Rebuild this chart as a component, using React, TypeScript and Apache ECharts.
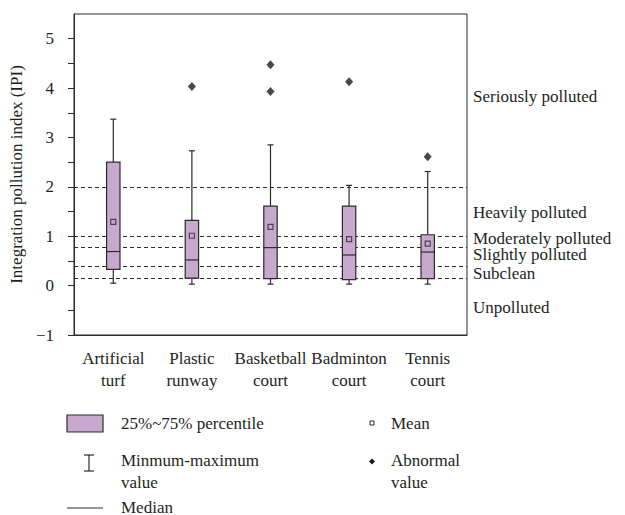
import React, { useEffect, useRef } from "react";
import * as echarts from "echarts";

const categories = ["Artificial\nturf", "Plastic\nrunway", "Basketball\ncourt", "Badminton\ncourt", "Tennis\ncourt"];
const minValues = [0.05, 0.03, 0.03, 0.03, 0.03];
const q1Values = [0.33, 0.15, 0.14, 0.12, 0.14];
const medianValues = [0.69, 0.52, 0.77, 0.62, 0.68];
const q3Values = [2.5, 1.32, 1.61, 1.61, 1.03];
const maxValues = [3.37, 2.73, 2.85, 2.03, 2.31];
const meanValues = [1.29, 1.01, 1.19, 0.94, 0.85];
const outlierCats = [1, 2, 2, 3, 4];
const outlierValues = [4.03, 4.47, 3.93, 4.13, 2.61];
const thresholds = [0.15, 0.4, 0.78, 1, 2];
const gradeNames = ["Seriously polluted", "Heavily polluted", "Moderately polluted", "Slightly polluted", "Subclean", "Unpolluted"];
const gradeLabelValues = [3.83, 1.48, 0.96, 0.64, 0.25, -0.45];

const FONT = '"Liberation Serif", "Times New Roman", serif';
const FS = 17;
const TXT = "#231f20";
const LINE = "#2b2b2b";
const BOX = "#c8a8cf";

export default function App() {
  const ref = useRef<HTMLDivElement>(null);
  useEffect(() => {
    if (!ref.current) return;
    const chart = echarts.init(ref.current, undefined, { renderer: "svg" });
    const boxData = categories.map((_, i) => [i, minValues[i], q1Values[i], medianValues[i], q3Values[i], maxValues[i]]);
    const meanData = categories.map((_, i) => [i, meanValues[i]]);
    const outData = outlierCats.map((c, i) => [c, outlierValues[i]]);
    const textEl = (text: string, x: number, y: number) => ({
      type: "text",
      x,
      y,
      style: { text, fill: TXT, fontSize: FS, fontFamily: FONT, verticalAlign: "middle", align: "left" },
    });
    const legendGraphics: any[] = [
      { type: "rect", shape: { x: 67, y: 415, width: 36, height: 17 }, style: { fill: BOX, stroke: LINE, lineWidth: 1.2 } },
      textEl("25%~75% percentile", 121, 423),
      { type: "line", shape: { x1: 89, y1: 455, x2: 89, y2: 471 }, style: { stroke: LINE, lineWidth: 1.2 } },
      { type: "line", shape: { x1: 84, y1: 455, x2: 94, y2: 455 }, style: { stroke: LINE, lineWidth: 1.2 } },
      { type: "line", shape: { x1: 84, y1: 471, x2: 94, y2: 471 }, style: { stroke: LINE, lineWidth: 1.2 } },
      textEl("Minmum-maximum", 121, 460),
      textEl("value", 121, 482),
      { type: "line", shape: { x1: 67, y1: 508, x2: 103, y2: 508 }, style: { stroke: LINE, lineWidth: 1.2 } },
      textEl("Median", 121, 507),
      { type: "rect", shape: { x: 370, y: 421, width: 4, height: 4 }, style: { fill: "#fff", stroke: LINE, lineWidth: 1 } },
      textEl("Mean", 391, 423),
      { type: "polygon", shape: { points: [[372, 458.5], [375, 461.5], [372, 464.5], [369, 461.5]] }, style: { fill: "#1a1a1a" } },
      textEl("Abnormal", 391, 460),
      textEl("value", 391, 482),
    ];
    chart.setOption({
      animation: false,
      textStyle: { fontFamily: FONT, color: TXT },
      grid: { left: 67, right: 158, top: 14, bottom: 180, show: true, borderColor: LINE, borderWidth: 1, backgroundColor: "transparent" },
      xAxis: {
        type: "category",
        data: categories,
        boundaryGap: true,
        axisLine: { onZero: false, lineStyle: { color: LINE, width: 1 } },
        axisTick: { alignWithLabel: true, length: 6, lineStyle: { color: LINE } },
        axisLabel: { color: TXT, fontSize: FS, fontFamily: FONT, lineHeight: 22, margin: 12, interval: 0 },
        splitLine: { show: false },
      },
      yAxis: {
        type: "value",
        min: -1,
        max: 5.5,
        interval: 0.5,
        name: "Integration pollution index (IPI)",
        nameLocation: "middle",
        nameGap: 40,
        nameTextStyle: { color: TXT, fontSize: FS, fontFamily: FONT },
        axisLine: { show: true, lineStyle: { color: LINE, width: 1 } },
        axisTick: { show: true, length: 6, lineStyle: { color: LINE } },
        axisLabel: {
          color: TXT,
          fontSize: FS,
          fontFamily: FONT,
          margin: 20,
          showMaxLabel: false,
          formatter: (v: number) => (Number.isInteger(v) ? (v < 0 ? "\u2212" + Math.abs(v) : String(v)) : ""),
        },
        splitLine: { show: false },
      },
      series: [
        {
          type: "line",
          data: [],
          silent: true,
          markLine: {
            silent: true,
            symbol: "none",
            z: 1,
            label: { show: false },
            lineStyle: { type: [4, 3], color: LINE, width: 1.2 },
            data: thresholds.map((t) => ({ yAxis: t })),
          },
        },
        {
          type: "custom",
          z: 3,
          data: boxData,
          encode: { x: 0, y: [1, 2, 3, 4, 5] },
          renderItem: (params: any, api: any) => {
            const c = api.value(0);
            const pMin = api.coord([c, api.value(1)]);
            const pQ1 = api.coord([c, api.value(2)]);
            const pMed = api.coord([c, api.value(3)]);
            const pQ3 = api.coord([c, api.value(4)]);
            const pMax = api.coord([c, api.value(5)]);
            const cx = pMin[0];
            const hw = 6.7;
            const cw = 3;
            const ls = { stroke: LINE, lineWidth: 1.2 };
            return {
              type: "group",
              children: [
                { type: "line", shape: { x1: cx, y1: pMin[1], x2: cx, y2: pQ1[1] }, style: ls },
                { type: "line", shape: { x1: cx, y1: pQ3[1], x2: cx, y2: pMax[1] }, style: ls },
                { type: "line", shape: { x1: cx - cw, y1: pMin[1], x2: cx + cw, y2: pMin[1] }, style: ls },
                { type: "line", shape: { x1: cx - cw, y1: pMax[1], x2: cx + cw, y2: pMax[1] }, style: ls },
                { type: "rect", shape: { x: cx - hw, y: pQ3[1], width: hw * 2, height: pQ1[1] - pQ3[1] }, style: { fill: BOX, stroke: LINE, lineWidth: 1.2 } },
                { type: "line", shape: { x1: cx - hw, y1: pMed[1], x2: cx + hw, y2: pMed[1] }, style: ls },
              ],
            };
          },
        },
        {
          type: "scatter",
          z: 4,
          data: meanData,
          symbol: "rect",
          symbolSize: 5,
          itemStyle: { color: "rgba(0,0,0,0)", borderColor: LINE, borderWidth: 1.2 },
        },
        {
          type: "scatter",
          z: 4,
          data: outData,
          symbol: "diamond",
          symbolSize: [8, 9],
          itemStyle: { color: "#1a1a1a" },
        },
      ],
      graphic: legendGraphics,
    });
    const last = categories.length - 1;
    const xLast = chart.convertToPixel({ xAxisIndex: 0 } as any, last) as number;
    const xPrev = chart.convertToPixel({ xAxisIndex: 0 } as any, last - 1) as number;
    const rightX = xLast + (xLast - xPrev) / 2 + 6;
    const gradeGraphics = gradeNames.map((n, i) => {
      const y = chart.convertToPixel({ yAxisIndex: 0 } as any, gradeLabelValues[i]) as number;
      return textEl(n, rightX, y);
    });
    chart.setOption({ graphic: [...legendGraphics, ...gradeGraphics] });
    return () => chart.dispose();
  }, []);
  return <div ref={ref} style={{ position: "fixed", left: 0, top: 0, width: 625, height: 515, background: "#fff" }} />;
}
